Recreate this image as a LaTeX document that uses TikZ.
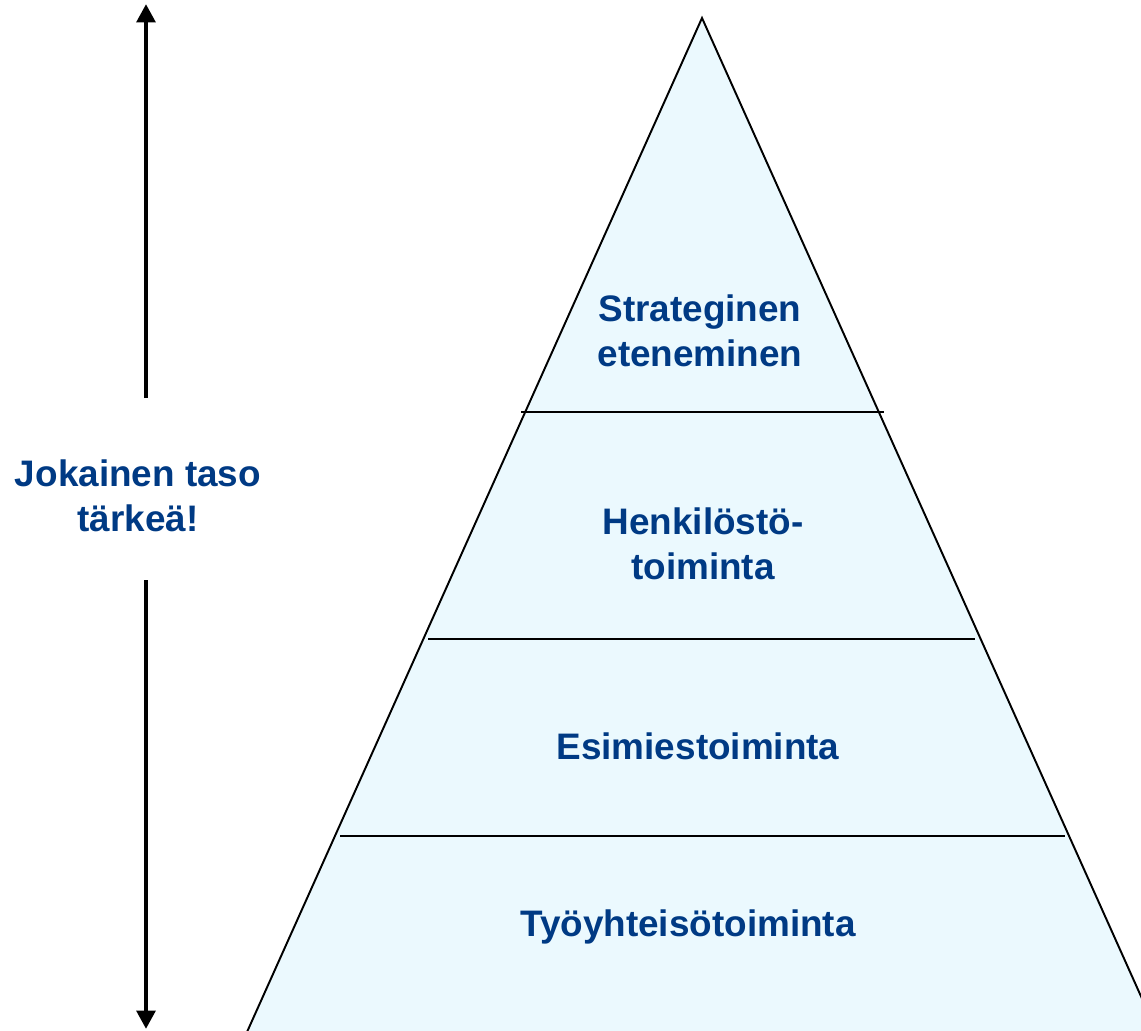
\documentclass[tikz,border=0pt]{standalone}
\usepackage{fontspec}
\setmainfont{Liberation Sans}
\usetikzlibrary{arrows.meta}
\definecolor{levelfill}{HTML}{EBF9FE}
\definecolor{leveltext}{HTML}{003A84}
\tikzset{
	leveltxt/.style={text=leveltext,font=\fontsize{21}{25.5}\selectfont\bfseries,align=center},
	levelline/.style={line width=1.1pt},
	tasoarrow/.style={line width=2.8pt,-{Triangle[length=10.5pt,width=10.5pt]}}
}

\begin{document}
\begin{tikzpicture}[x=0.02cm,y=-0.02cm]
	\useasboundingbox (0,0) rectangle (1141,1030);
	\coordinate (apex) at (702,18);
	\coordinate (baseL) at (247,1032);
	\coordinate (baseR) at (1157,1032);
	\filldraw[fill=levelfill,levelline] (apex) -- (baseR) -- (baseL) -- cycle;
	\draw[levelline] (521,412) -- (884,412);
	\draw[levelline] (428,639) -- (975,639);
	\draw[levelline] (340,836) -- (1065,836);
	\node[leveltxt] (strat) at (700,331) {Strateginen\\eteneminen};
	\node[leveltxt] (henk) at (703,544) {Henkilöstö-\\toiminta};
	\node[leveltxt] (esim) at (698,746) {Esimiestoiminta};
	\node[leveltxt] (tyo) at (688,927) {Työyhteisötoiminta};
	\node[leveltxt] (taso) at (138,496) {Jokainen taso\\tärkeä!};
	\coordinate (upstart) at (146,398);
	\coordinate (uptip) at (146,4);
	\coordinate (downstart) at (146,580);
	\coordinate (downtip) at (146,1029);
	\draw[tasoarrow] (upstart) -- (uptip);
	\draw[tasoarrow] (downstart) -- (downtip);
\end{tikzpicture}
\end{document}
